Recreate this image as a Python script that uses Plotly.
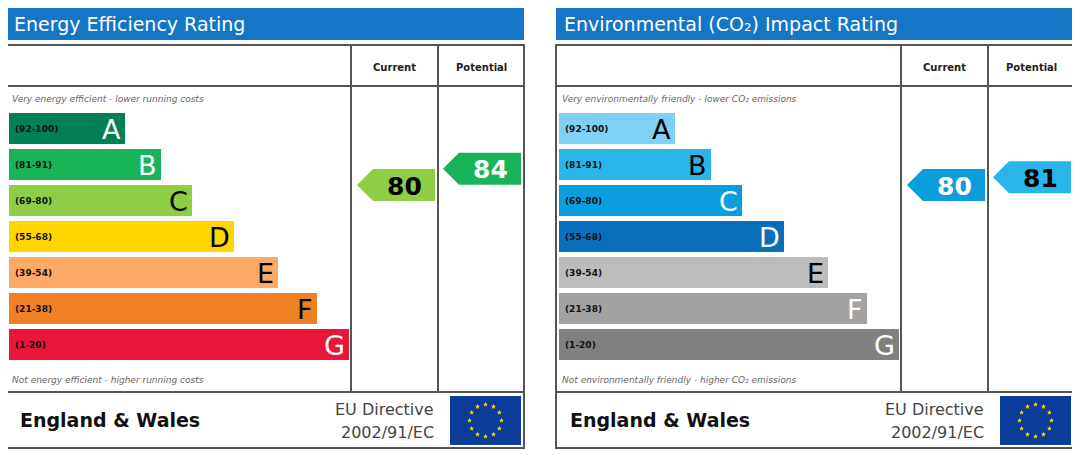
import numpy as np
import plotly.graph_objects as go

# band data
letters = ["A", "B", "C", "D", "E", "F", "G"]
ranges = ["(92-100)", "(81-91)", "(69-80)", "(55-68)", "(39-54)", "(21-38)", "(1-20)"]
band_lo = [92, 81, 69, 55, 39, 21, 1]
band_hi = [100, 91, 80, 68, 54, 38, 20]
band_len = [116, 152, 183, 225, 269, 308, 340]

ee_colors = ["#008054", "#19b459", "#8dce46", "#ffd500", "#fcaa65", "#ef8023", "#e9153b"]
ee_letter_colors = ["white", "white", "black", "black", "black", "black", "white"]
ei_colors = ["#7fd0f5", "#2ab5ea", "#0a9fdc", "#0a6fba", "#bcbcbc", "#a2a2a2", "#808080"]
ei_letter_colors = ["black", "black", "white", "white", "black", "white", "white"]

panels = [
    dict(x0=6, title="Energy Efficiency Rating", colors=ee_colors, lcol=ee_letter_colors,
         top="Very energy efficient - lower running costs",
         bottom="Not energy efficient - higher running costs",
         current=80, potential=84),
    dict(x0=556, title="Environmental (CO\u2082) Impact Rating", colors=ei_colors, lcol=ei_letter_colors,
         top="Very environmentally friendly - lower CO\u2082 emissions",
         bottom="Not environmentally friendly - higher CO\u2082 emissions",
         current=80, potential=81),
]

W, H = 1080, 455
OFF = 8  # page body margin
BAND_TOP0, BAND_STEP, BAND_H = 113, 36, 31
FONT = "DejaVu Sans"

fig = go.Figure()
shapes = []
ann = []


def band_of(v):
    for i in range(len(letters)):
        if band_lo[i] <= v <= band_hi[i]:
            return i
    return len(letters) - 1


for p in panels:
    x0 = p["x0"]
    x1 = x0 + 518
    c1, c2 = x0 + 345, x0 + 432
    # title bar
    shapes.append(dict(type="rect", x0=x0, x1=x1, y0=8, y1=40, fillcolor="#1576c6", line_width=0, layer="below"))
    ann.append(dict(x=x0 + 6, y=24, text=p["title"], xanchor="left", showarrow=False,
                    font=dict(family=FONT, size=19, color="white")))
    # frame and grid
    lc = dict(color="#555", width=2)
    shapes.append(dict(type="rect", x0=x0, x1=x1, y0=45, y1=448, line=lc))
    shapes.append(dict(type="line", x0=x0, x1=x1, y0=86, y1=86, line=lc))
    shapes.append(dict(type="line", x0=x0, x1=x1, y0=392, y1=392, line=lc))
    shapes.append(dict(type="line", x0=c1, x1=c1, y0=45, y1=392, line=lc))
    shapes.append(dict(type="line", x0=c2, x1=c2, y0=45, y1=392, line=lc))
    ann.append(dict(x=(c1 + c2) / 2, y=67, text="<b>Current</b>", showarrow=False,
                    font=dict(family=FONT, size=10, color="#222")))
    ann.append(dict(x=(c2 + x1) / 2, y=67, text="<b>Potential</b>", showarrow=False,
                    font=dict(family=FONT, size=10, color="#222")))
    ann.append(dict(x=x0 + 4, y=99, text="<i>" + p["top"] + "</i>", xanchor="left", showarrow=False,
                    font=dict(family=FONT, size=9, color="#666")))
    ann.append(dict(x=x0 + 4, y=380, text="<i>" + p["bottom"] + "</i>", xanchor="left", showarrow=False,
                    font=dict(family=FONT, size=9, color="#666")))

    # bands
    ycent = [BAND_TOP0 + i * BAND_STEP + BAND_H / 2 for i in range(len(letters))]
    fig.add_trace(go.Bar(x=band_len, y=ycent, base=x0 + 3, width=BAND_H, orientation="h",
                         marker=dict(color=p["colors"], line_width=0), hoverinfo="skip"))
    for i in range(len(letters)):
        ann.append(dict(x=x0 + 7, y=ycent[i], text="<b>" + ranges[i] + "</b>", xanchor="left", showarrow=False,
                        font=dict(family=FONT, size=9, color="#111")))
        ann.append(dict(x=x0 + 3 + band_len[i] - 2, y=ycent[i] + 1, text=letters[i], xanchor="right",
                        showarrow=False, font=dict(family=FONT, size=27, color=p["lcol"][i])))

    # rating arrows
    for val, cx0, cx1 in [(p["current"], c1 + 6, c2 - 3), (p["potential"], c2 + 5, x1 - 3)]:
        i = band_of(val)
        yc = BAND_TOP0 + i * BAND_STEP + (band_hi[i] - val) / (band_hi[i] - band_lo[i] + 1) * BAND_H
        hh = 16
        fig.add_trace(go.Scatter(x=[cx0, cx0 + 16, cx1, cx1, cx0 + 16, cx0],
                                 y=[yc, yc - hh, yc - hh, yc + hh, yc + hh, yc],
                                 fill="toself", fillcolor=p["colors"][i], mode="lines", line_width=0,
                                 hoverinfo="skip"))
        tc = "black" if p["colors"] is ei_colors or p["lcol"][i] == "black" else "white"
        if p["colors"] is ei_colors and i == 2:
            tc = "white"
        ann.append(dict(x=(cx0 + 16 + cx1) / 2, y=yc + 1, text="<b>%d</b>" % val, showarrow=False,
                        font=dict(family=FONT, size=25, color=tc)))

    # footer
    ann.append(dict(x=x0 + 12, y=420, text="<b>England & Wales</b>", xanchor="left", showarrow=False,
                    font=dict(family=FONT, size=19, color="#111")))
    ann.append(dict(x=c2 - 2, y=409, text="EU Directive", xanchor="right", showarrow=False,
                    font=dict(family=FONT, size=16, color="#444")))
    ann.append(dict(x=c2 - 2, y=432, text="2002/91/EC", xanchor="right", showarrow=False,
                    font=dict(family=FONT, size=16, color="#444")))
    shapes.append(dict(type="rect", x0=c2 + 12, x1=x1 - 3, y0=396, y1=445, fillcolor="#0b3c99",
                       line_width=0, layer="below"))
    ang = np.arange(12) * np.pi / 6
    fx, fy = (c2 + 12 + x1 - 3) / 2, 420.5
    fig.add_trace(go.Scatter(x=fx + 16 * np.cos(ang), y=fy + 16 * np.sin(ang), mode="markers",
                             marker=dict(symbol="star", size=4, color="#ffdd00"), hoverinfo="skip"))

fig.update_layout(width=W, height=H, margin=dict(l=0, r=0, t=0, b=0), showlegend=False,
                  plot_bgcolor="white", paper_bgcolor="white", shapes=shapes, annotations=ann,
                  barmode="overlay")
fig.update_xaxes(range=[OFF, W + OFF], visible=False, fixedrange=True)
fig.update_yaxes(range=[H + OFF, OFF], visible=False, fixedrange=True)
fig.write_html("out.html")
